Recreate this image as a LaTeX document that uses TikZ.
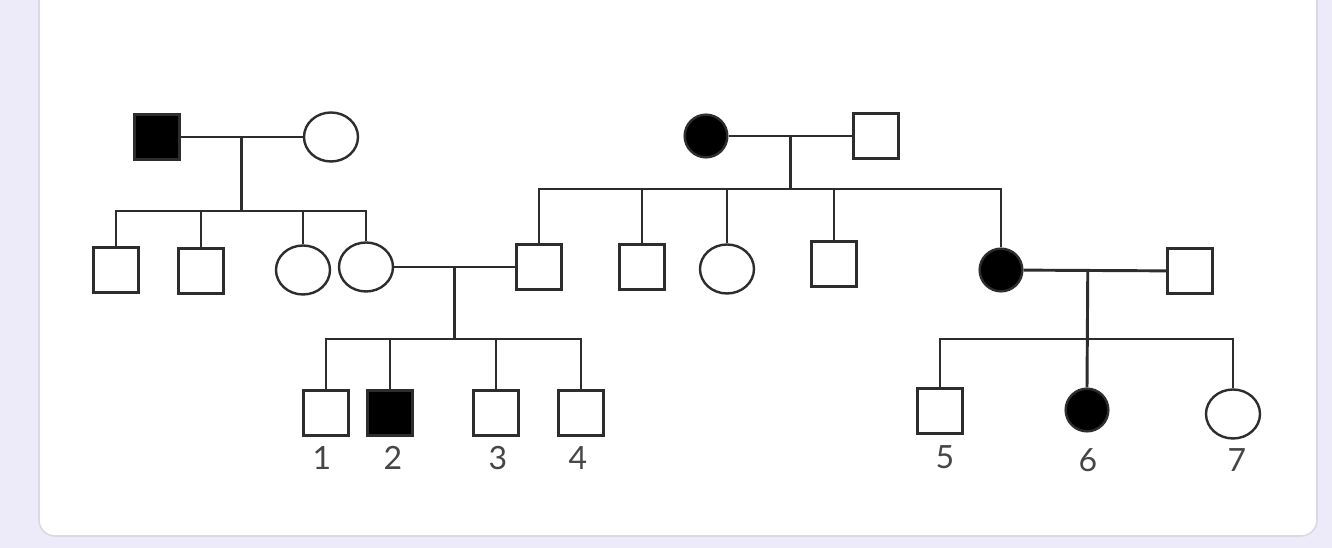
\documentclass[tikz,border=0pt]{standalone}
\usepackage{fontspec}
\setmainfont{Lato}
\usetikzlibrary{shapes, positioning, calc}
\definecolor{pagebg}{RGB}{237, 235, 249}
\definecolor{cardedge}{RGB}{218, 218, 228}
\definecolor{pedline}{RGB}{45, 45, 45}
\definecolor{numgray}{RGB}{70, 70, 70}

\tikzset{
  male/.style={rectangle, draw=pedline, line width=1.8pt, fill=white, minimum size=33.75pt, inner sep=0pt},
  female/.style={ellipse, draw=pedline, line width=1.8pt, fill=white, minimum width=40.5pt, minimum height=36.75pt, inner sep=0pt},
  affmale/.style={male, fill=black},
  afffemale/.style={circle, draw=pedline, line width=1.8pt, fill=black, minimum size=32pt, inner sep=0pt},
  link/.style={draw=pedline, line width=2.2pt},
  num/.style={text=numgray, font=\fontsize{24}{28}\selectfont, inner sep=0pt}
}

\begin{document}
\begin{tikzpicture}[x=0.75pt, y=-0.75pt]
  \useasboundingbox (0,0) rectangle (1332,548);
  \fill[pagebg] (0,0) rectangle (1332,548);
  \draw[cardedge, line width=1.2pt, fill=white, rounded corners=12pt] (39,-30) rectangle (1317,536);

  % generation I
  \node[affmale] (gf1) at (157,137) {};
  \node[female] (gm1) at (331,137) {};
  \node[afffemale] (gm2) at (706,136) {};
  \node[male] (gf2) at (876,136) {};

  % generation II
  \node[male] (s1) at (116,270) {};
  \node[male] (s2) at (201,271) {};
  \node[female] (d3) at (303,270) {};
  \node[female] (d4) at (366,267) {};
  \node[male] (m1) at (539,267) {};
  \node[male] (m2) at (642,267) {};
  \node[female] (m3) at (727,269) {};
  \node[male] (m4) at (834,264) {};
  \node[afffemale] (m5) at (1001,270) {};
  \node[male] (h5) at (1190,271) {};

  % generation III
  \node[male] (c1) at (326,413) {};
  \node[affmale] (c2) at (390,413) {};
  \node[male] (c3) at (496,413) {};
  \node[male] (c4) at (581,413) {};
  \node[male] (c5) at (940,411) {};
  \node[afffemale] (c6) at (1087,410) {};
  \node[female] (c7) at (1233,414) {};

  \node[num] (n1) at (322,458) {1};
  \node[num] (n2) at (393,458) {2};
  \node[num] (n3) at (498,458) {3};
  \node[num] (n4) at (578,458) {4};
  \node[num] (n5) at (945,457) {5};
  \node[num] (n6) at (1088,460) {6};
  \node[num] (n7) at (1237,460) {7};

  % couples
  \draw[link] (gf1) -- coordinate (u1) (gm1);
  \draw[link] (gm2) -- coordinate (u3) (gf2);
  \draw[link] (d4) -- coordinate (u2) (m1);
  \draw[link] (m5) -- coordinate[pos=.45] (u4) (h5);

  % sibships
  \draw[link] (u1) -- (u1 |- 0,211) coordinate (b1);
  \draw[link] (s1.north) |- (b1) -| (d4.north);
  \foreach \k in {s2,d3}
    \draw[link] (\k.north) -- (\k.north |- b1);

  \draw[link] (u3) -- (u3 |- 0,189) coordinate (b3);
  \draw[link] (m1.north) |- (b3) -| (m5.north);
  \foreach \k in {m2,m3,m4}
    \draw[link] (\k.north) -- (\k.north |- b3);

  \draw[link] (u2) -- (u2 |- 0,339) coordinate (b2);
  \draw[link] (c1.north) |- (b2) -| (c4.north);
  \foreach \k in {c2,c3}
    \draw[link] (\k.north) -- (\k.north |- b2);

  \draw[link] (u4) -- (c6.north);
  \coordinate (b4) at (u4 |- 0,339);
  \draw[link] (c5.north) |- (b4) -| (c7.north);
\end{tikzpicture}
\end{document}
